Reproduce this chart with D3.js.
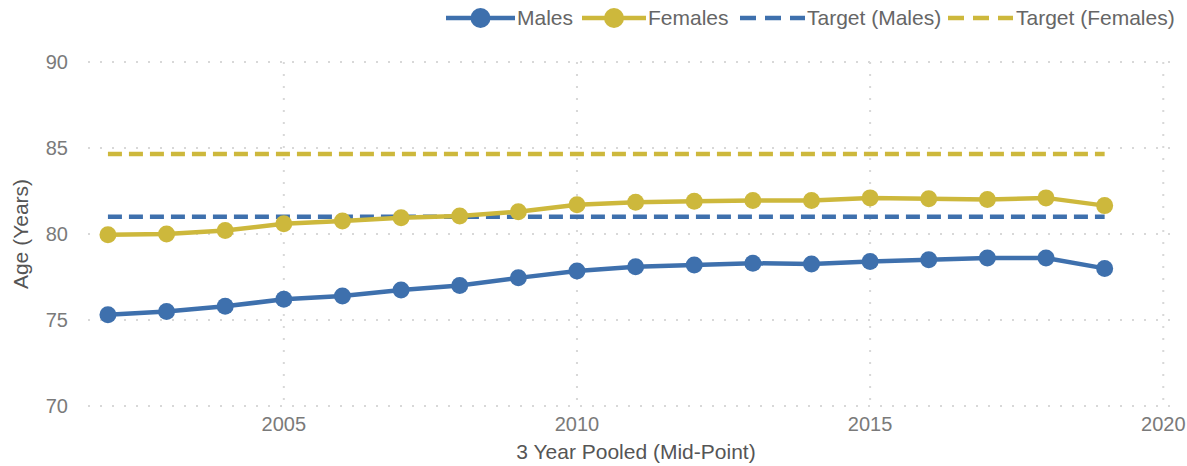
<!DOCTYPE html>
<html lang="en">
<head>
  <meta charset="UTF-8">
  <title>Life Expectancy</title>
  <script src="https://cdnjs.cloudflare.com/ajax/libs/d3/7.6.1/d3.min.js"></script>
  <style>
    body { margin: 0; background: #fff; }
    text { font-family: "Liberation Sans", Arial, sans-serif; }
    .grid line { stroke: #d8d8d8; stroke-width: 2px; stroke-dasharray: 2 10; }
    .tick-label { fill: #7a7a7a; font-size: 20px; }
    .axis-title { fill: #555; font-size: 21px; }
    .legend-text { fill: #666; font-size: 21px; }
  </style>
</head>
<body>
<div id="wrapper"></div>
<script>
const years = [2002, 2003, 2004, 2005, 2006, 2007, 2008, 2009, 2010, 2011, 2012, 2013, 2014, 2015, 2016, 2017, 2018, 2019];
const males = [75.3, 75.5, 75.8, 76.2, 76.4, 76.75, 77.0, 77.45, 77.85, 78.1, 78.2, 78.3, 78.25, 78.4, 78.5, 78.6, 78.6, 78.0];
const females = [79.95, 80.0, 80.2, 80.6, 80.75, 80.95, 81.05, 81.3, 81.7, 81.85, 81.9, 81.95, 81.95, 82.1, 82.05, 82.0, 82.1, 81.65];
const targetMales = 81.0;
const targetFemales = 84.65;
const xTicks = [2005, 2010, 2015, 2020];
const yTicks = [70, 75, 80, 85, 90];

const blue = "#3e70ad";
const gold = "#cdb83c";

const width = 1187, height = 466;
const svg = d3.select("#wrapper").append("svg")
    .attr("width", width)
    .attr("height", height);

const x = d3.scaleLinear().domain([2001.66, 2020.2]).range([88, 1175]);
const y = d3.scaleLinear().domain([70, 90]).range([406, 62]);

// gridlines
const grid = svg.append("g").attr("class", "grid");
grid.selectAll(".h").data(yTicks).enter().append("line")
    .attr("x1", x.range()[0]).attr("x2", x.range()[1])
    .attr("y1", d => y(d)).attr("y2", d => y(d));
grid.selectAll(".v").data(xTicks).enter().append("line")
    .attr("x1", d => x(d)).attr("x2", d => x(d))
    .attr("y1", y(90)).attr("y2", y(70));

// tick labels
svg.append("g").selectAll("text").data(yTicks).enter().append("text")
    .attr("class", "tick-label")
    .attr("x", 68).attr("y", d => y(d) + 7)
    .attr("text-anchor", "end")
    .text(d => d);
svg.append("g").selectAll("text").data(xTicks).enter().append("text")
    .attr("class", "tick-label")
    .attr("x", d => x(d)).attr("y", 431)
    .attr("text-anchor", "middle")
    .text(d => d);

svg.append("text").attr("class", "axis-title")
    .attr("x", 636).attr("y", 459)
    .attr("text-anchor", "middle")
    .text("3 Year Pooled (Mid-Point)");
svg.append("text").attr("class", "axis-title")
    .attr("transform", `translate(28,${(y(70) + y(90)) / 2}) rotate(-90)`)
    .attr("text-anchor", "middle")
    .text("Age (Years)");

// target lines
const first = years[0], last = years[years.length - 1];
[[targetMales, blue], [targetFemales, gold]].forEach(([v, c]) => {
  svg.append("line")
      .attr("x1", x(first)).attr("x2", x(last))
      .attr("y1", y(v)).attr("y2", y(v))
      .attr("stroke", c).attr("stroke-width", 4.5)
      .attr("stroke-dasharray", "14 7");
});

// series
const line = d3.line().x(d => x(d[0])).y(d => y(d[1]));
[[females, gold], [males, blue]].forEach(([vals, c]) => {
  const pts = years.map((yr, i) => [yr, vals[i]]);
  svg.append("path").datum(pts)
      .attr("d", line)
      .attr("fill", "none")
      .attr("stroke", c)
      .attr("stroke-width", 4.5);
  svg.append("g").selectAll("circle").data(pts).enter().append("circle")
      .attr("cx", d => x(d[0])).attr("cy", d => y(d[1]))
      .attr("r", 8.5)
      .attr("fill", c);
});

// legend
const ly = 18;
const legend = svg.append("g");
const items = [
  {label: "Males", color: blue, dashed: false, x0: 446, x1: 515, tx: 517},
  {label: "Females", color: gold, dashed: false, x0: 582, x1: 646, tx: 648},
  {label: "Target (Males)", color: blue, dashed: true, x0: 740, x1: 805, tx: 807},
  {label: "Target (Females)", color: gold, dashed: true, x0: 948, x1: 1013, tx: 1016}
];
items.forEach(it => {
  legend.append("line")
      .attr("x1", it.x0).attr("x2", it.x1)
      .attr("y1", ly).attr("y2", ly)
      .attr("stroke", it.color).attr("stroke-width", 4.5)
      .attr("stroke-dasharray", it.dashed ? "16 9" : null);
  if (!it.dashed) {
    legend.append("circle")
        .attr("cx", (it.x0 + it.x1) / 2).attr("cy", ly)
        .attr("r", 10).attr("fill", it.color);
  }
  legend.append("text").attr("class", "legend-text")
      .attr("x", it.tx).attr("y", ly + 7)
      .text(it.label);
});
</script>
</body>
</html>
